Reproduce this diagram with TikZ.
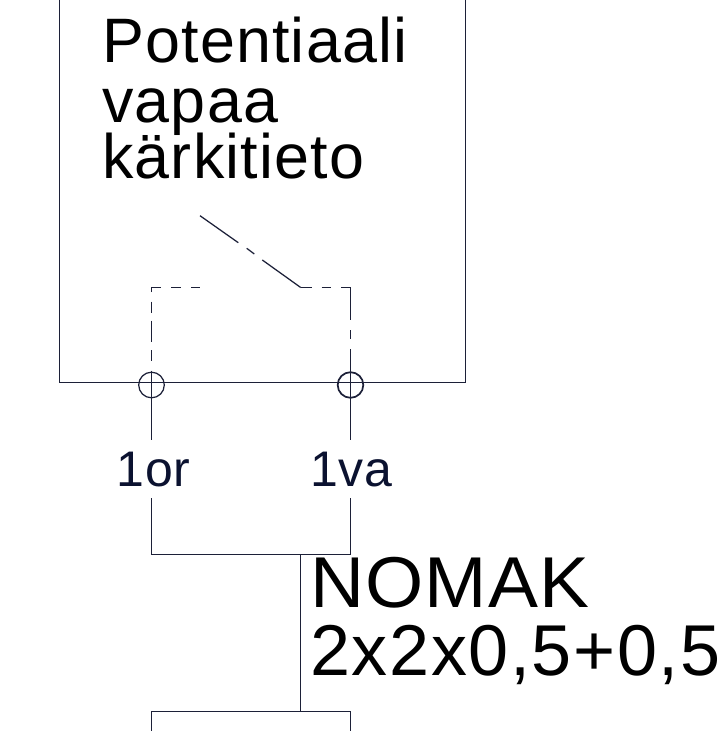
\documentclass[tikz,border=0pt]{standalone}
\usepackage{fontspec}
\setmainfont{Liberation Sans}
\definecolor{wire}{HTML}{1C2038}
\definecolor{lab}{HTML}{0B1230}
\tikzset{
  wireline/.style={draw=wire,line width=1.25pt},
  termring/.style={circle,draw=wire,line width=1.25pt,minimum size=25.6pt,inner sep=0pt,fill=none},
  bigtext/.style={anchor=base west,inner sep=0pt,text=black},
  termlabel/.style={anchor=base,inner sep=0pt,text=lab,font=\labelfont\fontsize{50}{50}\selectfont},
}
\newfontfamily\headfont[LetterSpace=1.9]{Liberation Sans}
\newfontfamily\cablefont[FakeStretch=1.04,LetterSpace=1.5]{Liberation Sans}
\newfontfamily\specfont[LetterSpace=2.2]{Liberation Sans}
\newfontfamily\labelfont[LetterSpace=1.5]{Liberation Sans}
\begin{document}
\begin{tikzpicture}[x=1pt,y=-1pt]
\useasboundingbox (0,0) rectangle (719,731);
\clip (0,0) rectangle (719,731);
% box and terminals
\coordinate (boxtl) at (59.5,0);
\coordinate (boxbl) at (59.5,382.5);
\coordinate (boxbr) at (465.5,382.5);
\coordinate (boxtr) at (465.5,0);
\draw[wireline] (boxtl) -- (boxbl) -- (boxbr) -- (boxtr);
\node[termring] (t1) at (151.5,385) {};
\node[termring,line width=1.7pt] (t2) at (350.5,385) {};
% switch contact
\coordinate (swA) at (200,215.7);
\coordinate (swB) at (238.3,242.7);
\coordinate (swC) at (246.7,248.3);
\coordinate (swD) at (254.3,254);
\coordinate (swE) at (262.3,260);
\coordinate (swF) at (300.7,287.5);
\draw[wireline] (swA) -- (swB) (swC) -- (swD) (swE) -- (swF);
% dashed left branch
\coordinate (lc) at (151.5,287.5);
\coordinate (lh1) at (161,287.5);
\coordinate (lh2) at (171,287.5);
\coordinate (lh3) at (181,287.5);
\coordinate (lh4) at (191,287.5);
\coordinate (lh5) at (200,287.5);
\coordinate (lv1) at (151.5,292);
\coordinate (lv2) at (151.5,301.7);
\coordinate (lv3) at (151.5,313.3);
\coordinate (lv4) at (151.5,320.7);
\coordinate (lv5) at (151.5,341.7);
\coordinate (lv6) at (151.5,350);
\coordinate (lv7) at (151.5,360.7);
\coordinate (lv8) at (151.5,370.7);
\coordinate (l1top) at (151.5,440);
\draw[wireline] (lv1) -- (lc) -- (lh1) (lh2) -- (lh3) (lh4) -- (lh5)
  (lv2) -- (lv3) (lv4) -- (lv5) (lv6) -- (lv7) (lv8) -- (l1top);
% dashed right branch
\coordinate (rh1) at (311.7,287.5);
\coordinate (rh2) at (321.7,287.5);
\coordinate (rh3) at (331,287.5);
\coordinate (rh4) at (341,287.5);
\coordinate (rc) at (350.5,287.5);
\coordinate (rv1) at (350.5,320);
\coordinate (rv2) at (350.5,330);
\coordinate (rv3) at (350.5,339.3);
\coordinate (rv4) at (350.5,349);
\coordinate (r1top) at (350.5,440);
\draw[wireline] (swF) -- (rh1) (rh2) -- (rh3) (rh4) -- (rc) -- (rv1) (rv2) -- (rv3) (rv4) -- (r1top);
% lower wiring
\coordinate (l2a) at (151.5,498);
\coordinate (l2b) at (151.5,554.5);
\coordinate (r2a) at (350.5,498);
\coordinate (r2b) at (350.5,554.5);
\coordinate (mid) at (300.5,554.5);
\coordinate (midb) at (300.5,711.5);
\coordinate (bl) at (151.5,711.5);
\coordinate (br) at (350.5,711.5);
\coordinate (bld) at (151.5,731);
\coordinate (brd) at (350.5,731);
\draw[wireline] (l2a) -- (l2b) -- (r2b) -- (r2a);
\draw[wireline] (mid) -- (midb);
\draw[wireline] (bld) -- (bl) -- (br) -- (brd);
% texts
\node[bigtext,font=\headfont\fontsize{62.8}{62.8}\selectfont] (pot) at (102,62) {Potentiaali};
\node[bigtext,font=\headfont\fontsize{62.8}{62.8}\selectfont] (vap) at (102,122) {vapaa};
\node[bigtext,font=\headfont\fontsize{62.8}{62.8}\selectfont] (kar) at (102,178.5) {kärkitieto};
\node[termlabel] (or) at (153.5,486) {1or};
\node[termlabel] (va) at (351.5,486) {1va};
\node[bigtext,font=\cablefont\fontsize{72}{72}\selectfont] (nom) at (310,607) {NOMAK};
\node[bigtext,font=\specfont\fontsize{72}{72}\selectfont] (spec) at (310,675) {2x2x0,5+0,5};
\end{tikzpicture}
\end{document}
